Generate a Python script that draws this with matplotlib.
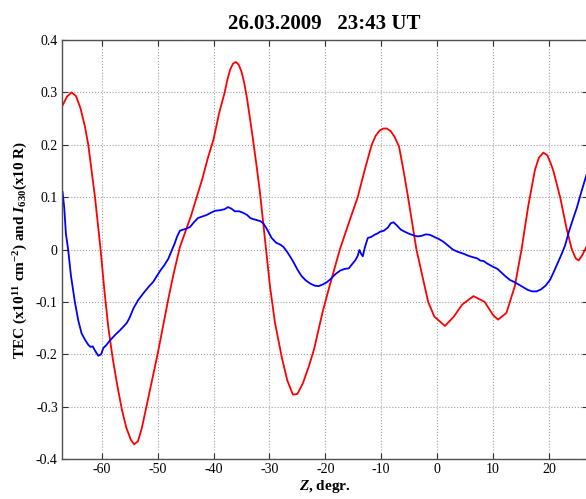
import matplotlib
matplotlib.use("Agg")
import matplotlib.pyplot as plt

# I630 (red)
red_z = [-67.0, -66.2, -65.4, -64.6, -63.8, -63.0, -62.4, -61.8, -61.2, -60.6,
         -60.2, -59.5, -58.8, -58.0, -57.2, -56.4, -55.6, -54.8, -54.2, -53.5,
         -52.8, -52.0, -51.0, -50.0, -49.0, -48.0, -47.0, -46.0, -45.0, -44.0,
         -43.0, -42.0, -41.0, -40.0, -39.0, -38.0, -37.5, -37.0, -36.5, -36.0,
         -35.5, -35.0, -34.5, -34.0, -33.5, -33.0, -32.3, -31.7, -30.6, -29.9,
         -29.0, -27.8, -26.8, -25.8, -25.0, -24.0, -23.0, -22.0, -20.5, -19.5,
         -17.4, -15.5, -14.2, -13.0, -11.7, -11.0, -10.3, -9.6, -9.0, -8.3,
         -7.6, -6.8, -6.0, -5.2, -3.7, -1.6, -0.5, 1.4, 3.0, 4.5,
         6.5, 8.5, 10.0, 10.9, 12.4, 13.9, 15.1, 16.3, 17.5, 18.2,
         19.0, 19.7, 20.3, 20.8, 22.0, 23.2, 24.1, 24.8, 25.3, 25.9, 26.7]
red_v = [0.275, 0.292, 0.300, 0.293, 0.270, 0.235, 0.200, 0.150, 0.100, 0.040,
         0.000, -0.080, -0.150, -0.210, -0.260, -0.305, -0.340, -0.363, -0.372, -0.366,
         -0.340, -0.300, -0.250, -0.200, -0.145, -0.090, -0.040, 0.005, 0.035, 0.065,
         0.100, 0.135, 0.175, 0.210, 0.260, 0.300, 0.325, 0.344, 0.355, 0.358,
         0.353, 0.340, 0.318, 0.288, 0.252, 0.215, 0.160, 0.110, 0.000, -0.070,
         -0.140, -0.205, -0.250, -0.277, -0.276, -0.255, -0.225, -0.190, -0.120, -0.080,
         0.000, 0.060, 0.100, 0.150, 0.200, 0.217, 0.227, 0.231, 0.231, 0.226,
         0.215, 0.196, 0.150, 0.100, 0.000, -0.100, -0.128, -0.146, -0.128, -0.105,
         -0.089, -0.100, -0.125, -0.134, -0.121, -0.070, 0.000, 0.083, 0.152, 0.175,
         0.185, 0.180, 0.165, 0.150, 0.100, 0.038, 0.000, -0.017, -0.021, -0.012, 0.005]

# TEC (blue)
blue_z = [-67.0, -66.7, -66.4, -66.0, -65.5, -64.8, -64.2, -63.6, -63.0, -62.4,
          -62.0, -61.6, -61.2, -60.6, -60.1, -59.7, -59.2, -58.7, -58.2, -57.5,
          -56.8, -56.0, -55.5, -55.0, -54.3, -53.5, -52.5, -51.5, -50.8, -50.2,
          -49.5, -48.8, -48.1, -47.5, -47.0, -46.5, -46.0, -45.4, -44.8, -44.2,
          -43.5, -42.8, -42.0, -41.2, -40.5, -39.7, -38.8, -38.0, -37.4, -36.8,
          -36.2, -35.4, -34.7, -34.0, -33.4, -32.9, -32.2, -31.6, -31.1, -30.5,
          -29.6, -28.8, -28.0, -27.5, -26.8, -26.2, -25.7, -25.0, -24.3, -23.5,
          -22.7, -21.9, -21.2, -20.5, -19.8, -19.0, -18.2, -17.3, -16.5, -15.8,
          -15.2, -14.6, -14.2, -13.9, -13.6, -13.3, -12.9, -12.4, -11.8, -11.2,
          -10.6, -10.2, -9.5, -8.8, -8.3, -7.8, -7.2, -6.5, -5.8, -5.0,
          -4.2, -3.5, -2.8, -2.0, -1.3, -0.5, 0.3, 1.1, 2.0, 2.8,
          3.6, 4.7, 5.6, 6.5, 7.2, 7.7, 8.3, 9.0, 10.0, 10.8,
          11.5, 12.2, 13.0, 13.8, 14.6, 15.4, 16.2, 17.0, 17.8, 18.6,
          19.4, 20.2, 20.9, 21.6, 22.3, 22.9, 23.6, 24.3, 25.0, 25.8, 26.7]
blue_v = [0.110, 0.080, 0.030, 0.000, -0.050, -0.100, -0.135, -0.160, -0.172, -0.182,
          -0.186, -0.185, -0.193, -0.203, -0.200, -0.188, -0.183, -0.176, -0.170, -0.162,
          -0.155, -0.146, -0.140, -0.130, -0.112, -0.097, -0.083, -0.070, -0.062, -0.052,
          -0.040, -0.030, -0.018, -0.003, 0.010, 0.025, 0.036, 0.038, 0.040, 0.043,
          0.052, 0.060, 0.063, 0.066, 0.070, 0.074, 0.075, 0.077, 0.081, 0.078,
          0.073, 0.073, 0.070, 0.066, 0.060, 0.058, 0.056, 0.054, 0.050, 0.040,
          0.022, 0.013, 0.009, 0.005, -0.005, -0.015, -0.024, -0.038, -0.050, -0.059,
          -0.065, -0.069, -0.070, -0.067, -0.063, -0.056, -0.047, -0.040, -0.037, -0.036,
          -0.028, -0.020, -0.012, -0.001, -0.008, -0.013, 0.005, 0.022, 0.024, 0.028,
          0.031, 0.034, 0.036, 0.042, 0.050, 0.052, 0.046, 0.038, 0.034, 0.030,
          0.027, 0.025, 0.026, 0.029, 0.028, 0.024, 0.020, 0.015, 0.007, 0.000,
          -0.004, -0.008, -0.012, -0.015, -0.017, -0.021, -0.022, -0.027, -0.033, -0.037,
          -0.044, -0.051, -0.058, -0.062, -0.067, -0.072, -0.077, -0.080, -0.080, -0.076,
          -0.069, -0.058, -0.042, -0.025, -0.008, 0.008, 0.035, 0.058, 0.080, 0.110, 0.142]

xticks = [-60, -50, -40, -30, -20, -10, 0, 10, 20]
xlabels = ["-60", "-50", "-40", "-30", "-20", "-10", "0", "10", "20"]
yticks = [-0.4, -0.3, -0.2, -0.1, 0, 0.1, 0.2, 0.3, 0.4]
ylabels = ["-0.4", "-0.3", "-0.2", "-0.1", "0", "0.1", "0.2", "0.3", "0.4"]

plt.rcParams['font.family'] = 'Liberation Serif'
plt.rcParams['mathtext.fontset'] = 'custom'
plt.rcParams['mathtext.rm'] = 'Liberation Serif:bold'
plt.rcParams['mathtext.it'] = 'Liberation Serif:italic:bold'
plt.rcParams['mathtext.bf'] = 'Liberation Serif:bold'

fig = plt.figure(figsize=(5.86, 4.99), dpi=100)
ax = fig.add_axes([62/586, 40/499, 525.5/586, 419/499])

ax.plot(red_z, red_v, color='#ff0000', lw=1.3)
ax.plot(blue_z, blue_v, color='#0000ff', lw=1.3)

ax.set_xlim(-67.1, 26.9)
ax.set_ylim(-0.4, 0.4)
ax.set_xticks(xticks)
ax.set_xticklabels(xlabels)
ax.set_yticks(yticks)
ax.set_yticklabels(ylabels)
ax.tick_params(direction='in', top=True, right=True, length=4, width=0.8,
               labelsize=10, color='#303030', pad=3)
ax.grid(True, linestyle=':', color='#a0a0a0', lw=0.8)
for s in ax.spines.values():
    s.set_color('#505050')
    s.set_linewidth(1.0)

ax.set_title('26.03.2009   23:43 UT', fontsize=15, fontweight='bold', pad=8)
ax.set_xlabel(r'$Z$, degr.', fontsize=11, fontweight='bold', labelpad=1)
ax.set_ylabel(r'TEC (x10$^{11}$ cm$^{-2}$) and $I_{630}$(x10 R)', fontsize=11,
              fontweight='bold', labelpad=4)

fig.savefig('out.png', dpi=100)
